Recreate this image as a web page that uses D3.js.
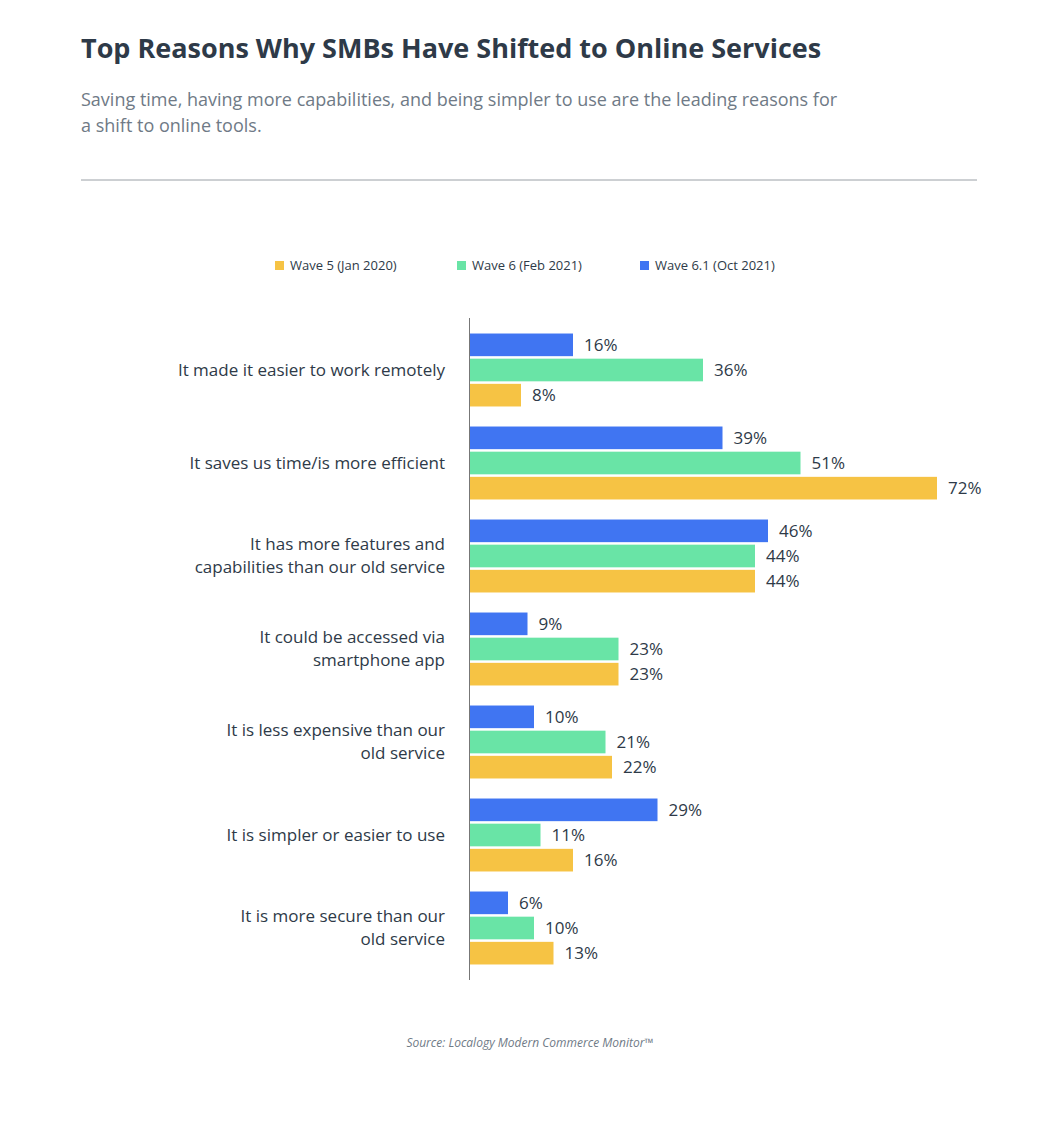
<!DOCTYPE html>
<html><head><meta charset="utf-8">
<script src="https://cdn.jsdelivr.net/npm/d3@7"></script>
<style>body{margin:0;background:#fff;font-family:"Source Sans Pro","Open Sans",sans-serif}</style>
</head><body><div class="chart"></div>
<script>
const categories = [
  ["It made it easier to work remotely"],
  ["It saves us time/is more efficient"],
  ["It has more features and", "capabilities than our old service"],
  ["It could be accessed via", "smartphone app"],
  ["It is less expensive than our", "old service"],
  ["It is simpler or easier to use"],
  ["It is more secure than our", "old service"]
];
const seriesNames = ["Wave 6.1 (Oct 2021)", "Wave 6 (Feb 2021)", "Wave 5 (Jan 2020)"];
const wave61 = [16, 39, 46, 9, 10, 29, 6];
const wave6 = [36, 51, 44, 23, 21, 11, 10];
const wave5 = [8, 72, 44, 23, 22, 16, 13];
const colors = ["#4075f2", "#69e4a6", "#f6c344"];
const legendOrder = [2, 1, 0];

const width = 1052, height = 1126;
const svg = d3.select('.chart').append('svg').attr("width", width).attr("height", height);
const dark = "#2e3a48";

svg.append("text").attr("x", 81).attr("y", 58).attr("font-size", 27).attr("font-weight", 700)
  .attr("fill", dark).text("Top Reasons Why SMBs Have Shifted to Online Services");
svg.append("text").attr("x", 81).attr("y", 106).attr("font-size", 18).attr("fill", "#6f7a86")
  .text("Saving time, having more capabilities, and being simpler to use are the leading reasons for");
svg.append("text").attr("x", 81).attr("y", 132).attr("font-size", 18).attr("fill", "#6f7a86")
  .text("a shift to online tools.");
svg.append("line").attr("x1", 81).attr("x2", 977).attr("y1", 180).attr("y2", 180)
  .attr("stroke", "#9aa0a6").attr("stroke-width", 1);

// legend
const legX = [275, 457, 640];
legendOrder.forEach((s, i) => {
  svg.append("rect").attr("x", legX[i]).attr("y", 261).attr("width", 9).attr("height", 9).attr("fill", colors[s]);
  svg.append("text").attr("x", legX[i] + 15).attr("y", 270).attr("font-size", 13).attr("fill", dark).text(seriesNames[s]);
});

const x = d3.scaleLinear().domain([0, 72]).range([469, 937]);
const y = d3.scaleBand().domain(d3.range(categories.length)).range([324, 975]).paddingInner(0).paddingOuter(0);
const yi = d3.scaleBand().domain(d3.range(3)).range([7, 85]).padding(0.1);
const series = [wave61, wave6, wave5];

const g = svg.append("g");
series.forEach((vals, s) => {
  g.selectAll(null).data(vals).enter().append("rect")
    .attr("x", x(0)).attr("y", (d, i) => y(i) + yi(s))
    .attr("width", d => x(d) - x(0)).attr("height", yi.bandwidth())
    .attr("fill", colors[s]);
  g.selectAll(null).data(vals).enter().append("text")
    .attr("x", d => x(d) + 11).attr("y", (d, i) => y(i) + yi(s) + yi.bandwidth() / 2)
    .attr("dy", "0.35em").attr("font-size", 17).attr("fill", dark).text(d => d + "%");
});

categories.forEach((lines, i) => {
  const cy = y(i) + 7 + 39;
  lines.forEach((t, j) => {
    svg.append("text").attr("x", 445).attr("y", cy + (j - (lines.length - 1) / 2) * 23)
      .attr("dy", "0.35em").attr("text-anchor", "end").attr("font-size", 17).attr("fill", dark).text(t);
  });
});

svg.append("line").attr("x1", 469.5).attr("x2", 469.5).attr("y1", 318).attr("y2", 980)
  .attr("stroke", "#777").attr("stroke-width", 1);

svg.append("text").attr("x", 530).attr("y", 1047).attr("text-anchor", "middle").attr("font-size", 12)
  .attr("font-style", "italic").attr("fill", "#6f7a86").text("Source: Localogy Modern Commerce Monitor™");
</script></body></html>
